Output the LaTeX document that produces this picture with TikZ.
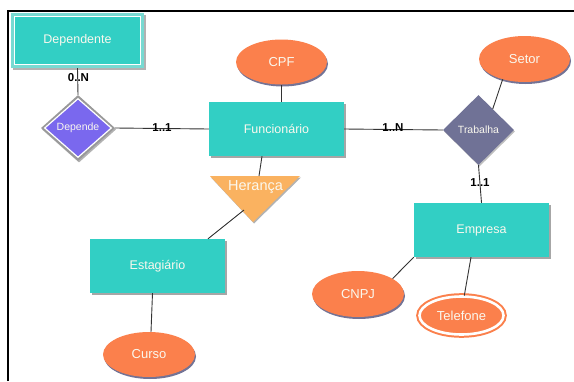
\documentclass[tikz,border=0pt]{standalone}
\usepackage{fontspec}
\setmainfont{Liberation Sans}
\usetikzlibrary{shapes.geometric,shadows}
\definecolor{tealc}{RGB}{50,207,196}
\definecolor{teallight}{RGB}{120,218,210}
\definecolor{orangec}{RGB}{251,128,76}
\definecolor{purplec}{RGB}{122,104,238}
\definecolor{slatec}{RGB}{112,114,150}
\definecolor{herc}{RGB}{250,178,96}
\definecolor{txtc}{RGB}{250,248,238}
\tikzset{
  entity/.style={rectangle, fill=tealc, minimum width=135pt, minimum height=54pt, inner sep=0pt,
    text=txtc, font=\fontsize{12.5}{14}\selectfont,
    drop shadow={shadow xshift=1.5pt, shadow yshift=-2pt, opacity=0.35, fill=black}},
  attr/.style={ellipse, fill=orangec, minimum width=91pt, minimum height=45pt, inner sep=0pt,
    text=txtc, font=\fontsize{13}{15}\selectfont,
    drop shadow={shadow xshift=1pt, shadow yshift=-2pt, opacity=0.55, fill=black!75!blue}},
  rel/.style={diamond, inner sep=0pt, text=txtc, font=\fontsize{10.5}{12}\selectfont},
  card/.style={font=\fontsize{11.5}{13}\bfseries\selectfont, text=black, inner sep=0pt},
  link/.style={draw=black!80, line width=0.9pt},
}
\begin{document}
\begin{tikzpicture}[x=1pt,y=-1pt]
\useasboundingbox (0,0) rectangle (574,381);
\fill[white] (0,0) rectangle (574,381);
% frame
\draw[line width=2pt] (7.5,381) -- (7.5,10.5) -- (574,10.5);

% Dependente (entity with double border)
\node[rectangle, fill=teallight, minimum width=133pt, minimum height=55pt, inner sep=0pt,
  drop shadow={shadow xshift=1.5pt, shadow yshift=-2pt, opacity=0.3, fill=black}] (dept) at (77.5,40.5) {};
\node[rectangle, fill=tealc, draw=white, line width=1pt, minimum width=126pt, minimum height=48pt,
  inner sep=0pt, text=txtc, font=\fontsize{12.5}{14}\selectfont] (depti) at (77.5,40.5) {Dependente};

% Depende diamond
\node[rel, fill=black!40, minimum width=74pt, minimum height=66pt,
  drop shadow={shadow xshift=1pt, shadow yshift=-1.5pt, opacity=0.3, fill=black}] (dep) at (78,128) {};
\node[rel, fill=purplec, draw=white, line width=1.2pt, minimum width=67pt, minimum height=59pt] (depi) at (78,128) {Depende};

% Entities
\node[entity] (func) at (276.5,129) {Funcionário};
\node[entity] (est) at (157.5,266) {Estagiário};
\node[entity] (emp) at (481.5,230) {Empresa};

% Trabalha diamond
\node[rel, fill=slatec, minimum width=71pt, minimum height=70pt,
  drop shadow={shadow xshift=1pt, shadow yshift=-1.5pt, opacity=0.25, fill=black}] (trab) at (478.5,130) {Trabalha};

% Attributes
\node[attr] (cpf) at (281.5,62) {CPF};
\node[attr, minimum height=46pt] (setor) at (524.5,59) {Setor};
\node[attr, minimum width=92pt, minimum height=46pt] (cnpj) at (358,294) {CNPJ};
\node[attr, minimum width=92pt] (curso) at (149,354.5) {Curso};
\node[attr, draw=orangec, line width=2pt, double=white, double distance=2.6pt,
  minimum width=84pt, minimum height=38pt] (tel) at (461.5,315.5) {Telefone};

% Heranca triangle
\coordinate (htl) at (210,176);
\coordinate (htr) at (300,176);
\coordinate (hbot) at (253,222);
\coordinate (htop) at (259,176);
\coordinate (hlow) at (244,210);
\fill[herc, drop shadow={shadow xshift=1pt, shadow yshift=-1.5pt, opacity=0.3, fill=black}] (htl) -- (htr) -- (hbot) -- cycle;
\node[text=txtc, font=\fontsize{14.5}{16}\selectfont, inner sep=0pt] (her) at (255.5,187) {Herança};

% Connectors
\draw[link] (dept.south) -- (dep.north);
\draw[link] (dep.east) -- (func.west);
\draw[link] (func.east) -- (trab.west);
\draw[link] (trab.south) -- (emp.north);
\draw[link] (setor.223) -- (trab.56);
\draw[link] (cpf.south) -- (cpf.south |- func.north);
\draw[link] ([xshift=-14.5pt]func.south) -- (htop);
\draw[link] (hlow) -- ([xshift=50.5pt]est.north);
\draw[link] ([xshift=-5pt]est.south) -- ([xshift=2pt]curso.north);
\draw[link] (emp.south west) -- (cnpj.24);
\draw[link] ([xshift=-10.5pt]emp.south) -- (tel.82);

% Cardinalities
\node[card] (c1) at (78.5,78) {0..N};
\node[card] (c2) at (162,128) {1..1};
\node[card] (c3) at (393,127.5) {1..N};
\node[card] (c4) at (480,183) {1..1};
\end{tikzpicture}
\end{document}
